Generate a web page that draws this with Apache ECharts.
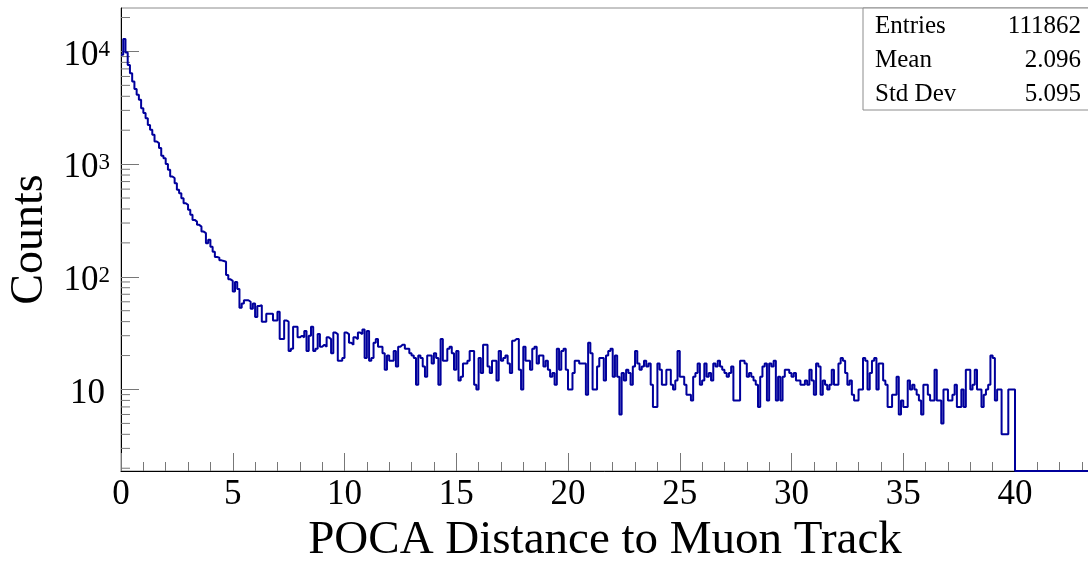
<!DOCTYPE html>
<html>
<head>
<meta charset="utf-8">
<script src="https://cdn.jsdelivr.net/npm/echarts@6/dist/echarts.min.js"></script>
<style>
html,body{margin:0;padding:0;background:#fff;}
#chart{width:1088px;height:561px;}
</style>
</head>
<body>
<div id="chart"></div>
<script>
// ---- data ----
const binWidth = 0.1;        // bin width of the histogram
const xMin = 0;
const xMax = 45;             // histogram range end (frame is cropped at the right)
const yMin = 1.89;
const yMax = 24300;
const xTickLabels = ['0','5','10','15','20','25','30','35','40'];
// counts per bin, bin i = [0.1*i, 0.1*(i+1)]; bins beyond 40 are empty
const counts = [
 9340,12900,9800,7600,6400,5400,4650,4120,3720,3140,
 2840,2560,2230,2020,1820,1590,1535,1390,1185,1130,
 1000,890,776,751,678,591,552,499,450,435,
 393,355,320,309,289,279,252,244,199,213,
 185,167,150,148,140,138,136,104,95,92,
 74,90,78,53,58,62,62,60,52,58,
 44,55,56,40,40,47,47,47,41,41,
 49,28,28,41,40,22,23,36,36,29,
 30,29,33,22,30,36,22,23,31,24,
 25,24,29,28,21,32,31,18,18,19,
 32,31,26,25,29,28,32,31,34,19,
 33,18,19,26,28,24,24,21,15,20,
 18,18,22,16,24,25,25,23,23,21,
 20,19,11,20,19,16,13,20,20,17,
 21,19,11,28,18,18,23,24,21,15,
 22,12,13,17,17,18,22,22,11,10,
 19,14,25,25,16,14,18,18,12,22,
 18,19,20,17,14,27,28,28,15,10,
 24,18,18,15,23,24,17,20,20,16,
 18,15,13,14,11,23,15,22,23,15,
 10,10,14,18,18,17,17,17,9,26,
 21,10,10,16,19,19,12,20,22,23,
 13,20,13,6,14,12,15,14,11,16,
 22,17,15,16,18,16,17,11,7,7,
 17,15,11,11,15,15,11,10,12,22,
 13,13,11,9,9,8,13,14,17,11,
 12,17,13,14,12,17,16,18,16,15,
 14,13,14,16,8,8,8,18,18,17,
 13,14,13,12,11,7,13,16,17,8,
 17,16,18,8,13,8,13,15,15,14,
 13,14,12,12,11,11,12,11,15,12,
 9,17,16,9,12,11,10,11,15,11,
 11,17,19,18,14,11,12,9,8,8,
 10,10,19,18,10,14,18,19,10,17,
 17,12,11,7,7,9,9,13,6,8,
 7,7,12,10,11,10,9,8,6,11,
 11,9,8,8,15,8,8,5,10,10,
 8,8,9,11,7,7,10,7,15,15,
 10,11,15,10,10,7,9,10,11,20,
 19,8,10,10,4,4,4,10,10,10
];
const yMinorTicks = [2,3,4,5,6,7,8,9,20,30,40,50,60,70,80,90,200,300,400,500,600,700,800,900,2000,3000,4000,5000,6000,7000,8000,9000,20000];
const statNames = ['Entries','Mean','Std Dev'];
const statValues = ['111862','2.096','5.095'];

// ---- build histogram outline from the bins ----
const nBins = Math.round((xMax - xMin) / binWidth);
const outline = [];
for (let i = 0; i < nBins; i++) {
  const c = i < counts.length ? counts[i] : 0;
  const y = c > 0 ? c : yMin;              // empty bins sit on the frame bottom (log scale)
  const x0 = +(xMin + i * binWidth).toFixed(4);
  const x1 = +(xMin + (i + 1) * binWidth).toFixed(4);
  outline.push([x0, y], [x1, y]);
}

const FONT = 'Liberation Serif';
const chart = echarts.init(document.getElementById('chart'), null, {renderer:'canvas'});

const gridLeft = 121, gridTop = 8, gridHeight = 463;
const pxPerUnit = 22.35;
const gridWidth = (xMax - xMin) * pxPerUnit;

const statGraphics = [];
const boxX = 863, boxY = 8, boxW = 260, boxH = 102, rowH = boxH / statNames.length;
statGraphics.push({type:'rect', shape:{x:boxX, y:boxY, width:boxW, height:boxH},
  style:{fill:'#fff', stroke:'#8c8c8c', lineWidth:1}, z:10});
statNames.forEach((n, k) => {
  statGraphics.push({type:'text', x:boxX + 12, y:boxY + rowH * (k + 0.5) + 1, z:11,
    style:{text:n, font:'25px ' + FONT, fill:'#000', verticalAlign:'middle', align:'left'}});
  statGraphics.push({type:'text', x:1081, y:boxY + rowH * (k + 0.5) + 1, z:11,
    style:{text:statValues[k], font:'25px ' + FONT, fill:'#000', verticalAlign:'middle', align:'right'}});
});

chart.setOption({
  backgroundColor:'#ffffff',
  animation:false,
  grid:{left:gridLeft, top:gridTop, width:gridWidth, height:gridHeight, show:true,
        containLabel:false, outerBoundsMode:'none',
        borderColor:'#8c8c8c', borderWidth:1, backgroundColor:'transparent'},
  xAxis:{
    type:'value', min:xMin, max:xMax, interval:5,
    name:'POCA Distance to Muon Track', nameLocation:'middle', nameGap:45,
    nameTextStyle:{fontFamily:FONT, fontSize:47, color:'#000', padding:[0, 2*(121+gridWidth/2-605), 0, 0]},
    axisLine:{show:true, onZero:false, lineStyle:{color:'#000', width:1}},
    axisTick:{show:true, inside:true, length:18, lineStyle:{color:'#777', width:1}},
    minorTick:{show:true, splitNumber:5, length:9, lineStyle:{color:'#777', width:1}},
    splitLine:{show:false},
    axisLabel:{fontFamily:FONT, fontSize:35, color:'#000', margin:6,
      formatter:(v)=> xTickLabels.indexOf(String(v)) >= 0 ? String(v) : ''}
  },
  yAxis:{
    type:'log', logBase:10, min:yMin, max:yMax,
    name:'Counts', nameLocation:'middle', nameGap:67,
    nameTextStyle:{fontFamily:FONT, fontSize:46, color:'#000'},
    axisLine:{show:true, lineStyle:{color:'#000', width:1}},
    axisTick:{show:true, inside:true, length:18, lineStyle:{color:'#777', width:1}},
    splitLine:{show:false},
    axisLabel:{showMinLabel:false, showMaxLabel:false, margin:11, padding:[9,0,0,0],
      formatter:(v)=>{
        const e = Math.round(Math.log10(v));
        if (Math.abs(Math.log10(v) - e) > 1e-6) return '';
        if (e === 1) return '{p|10}';
        return '{b|10}{s|' + e + '}';
      },
      rich:{
        p:{fontFamily:FONT, fontSize:35, color:'#000', verticalAlign:'bottom', lineHeight:34, padding:[0,5,0,0]},
        b:{fontFamily:FONT, fontSize:35, color:'#000', verticalAlign:'bottom', lineHeight:34},
        s:{fontFamily:FONT, fontSize:23, color:'#000', verticalAlign:'top', lineHeight:22, padding:[0,0,20,0]}
      }
    }
  },
  graphic: statGraphics,
  series:[
    {
      type:'line', data:outline, showSymbol:false, symbol:'none',
      lineStyle:{color:'#00009c', width:2}, clip:true, z:5, silent:true
    },
    {
      type:'custom', silent:true, clip:false, z:4,
      data: yMinorTicks.filter(v => v > yMin && v < yMax).map(v => [xMin, v]),
      renderItem:(params, api)=>{
        const p = api.coord([api.value(0), api.value(1)]);
        return {type:'line', shape:{x1:p[0], y1:p[1], x2:p[0] + 9, y2:p[1]},
                style:{stroke:'#777', lineWidth:1}};
      }
    }
  ]
});
</script>
</body>
</html>
